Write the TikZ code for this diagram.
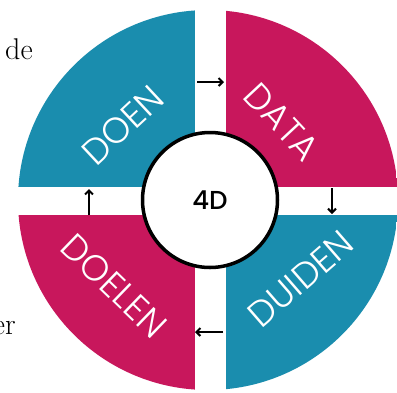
\documentclass[tikz,border=0pt]{standalone}
\usepackage{fontspec}
\usetikzlibrary{arrows.meta}
\newfontfamily\geofont{Poppins}[UprightFont=* Medium]
\newfontfamily\geolight{Poppins}[UprightFont=* Light]
\definecolor{tealq}{HTML}{1A8DAE}
\definecolor{pinkq}{HTML}{C8175C}
\tikzset{
  quadlabel/.style={text=white, font=\geolight\fontsize{36}{36}\selectfont, inner sep=0pt},
  flowarrow/.style={line width=2pt, -{Straight Barb[length=4pt,width=8pt]}},
  doctext/.style={font=\fontsize{30}{30}\selectfont, inner sep=0pt, text=black},
}
\begin{document}
\begin{tikzpicture}[x=1pt,y=-1pt]
\useasboundingbox (0,0) rectangle (397,392);
\fill[white] (0,0) rectangle (397,392);
% quadrants
\begin{scope}
  \clip (208,200) circle (190);
  \fill[tealq] (0,0) rectangle (210,201);
  \fill[pinkq] (210,0) rectangle (400,201);
  \fill[pinkq] (0,201) rectangle (210,400);
  \fill[tealq] (210,201) rectangle (400,400);
\end{scope}
% white strips
\fill[white] (195,0) rectangle (226,400);
\fill[white] (0,187) rectangle (400,215);
% labels
\node[quadlabel, rotate=43] (doen) at (123,125) {DOEN};
\node[quadlabel, rotate=-47] (data) at (282,122) {DATA};
\node[quadlabel, rotate=-44] (doelen) at (114,286) {DOELEN};
\node[quadlabel, rotate=41] (duiden) at (301,279) {DUIDEN};
% centre
\node[circle, draw=black, line width=3.5pt, fill=white, minimum size=135pt, inner sep=0pt,
      font=\geofont\fontsize{26}{26}\selectfont] (center) at (210,200) {4D};
% arrows
\coordinate (a1s) at (197,82); \coordinate (a1e) at (224,82);
\coordinate (a2s) at (332,188); \coordinate (a2e) at (332,214);
\coordinate (a3s) at (223,332); \coordinate (a3e) at (195,332);
\coordinate (a4s) at (89,215); \coordinate (a4e) at (89,189);
\draw[flowarrow] (a1s) -- (a1e);
\draw[flowarrow] (a2s) -- (a2e);
\draw[flowarrow] (a3s) -- (a3e);
\draw[flowarrow] (a4s) -- (a4e);
% document text fragments
\node[doctext, anchor=base west] (de) at (5,59) {de};
\node[doctext, anchor=base east] (er) at (16,334) {er};
\end{tikzpicture}
\end{document}
